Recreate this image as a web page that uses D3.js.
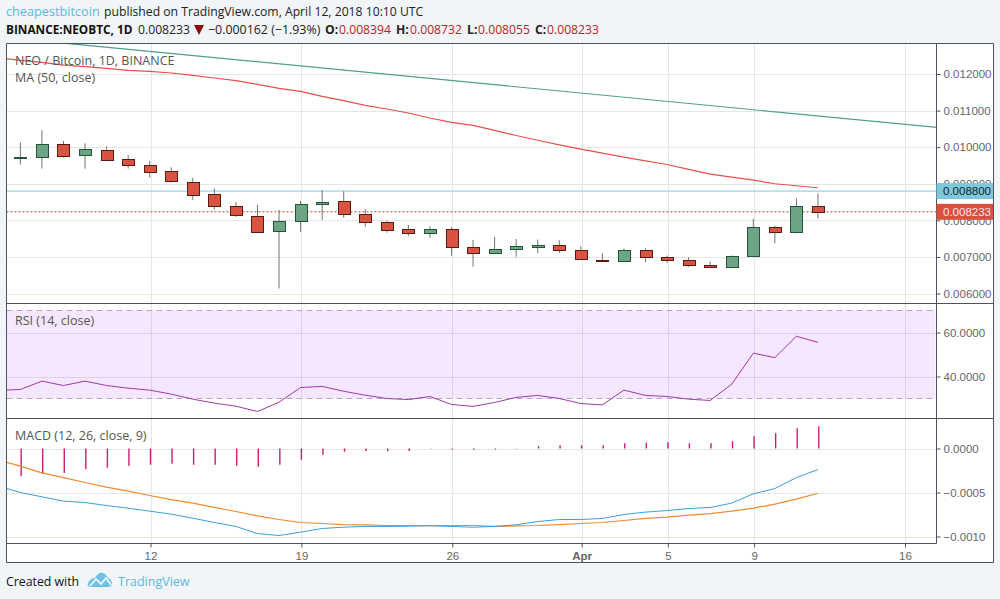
<!DOCTYPE html>
<html>
<head>
<meta charset="utf-8">
<script src="https://cdn.jsdelivr.net/npm/d3@7"></script>
<style>
  html, body { margin: 0; padding: 0; background: #f1f5f8; overflow: hidden; }
  svg { display: block; }
  .axis text { font-family: "Liberation Sans", Arial, sans-serif; font-size: 11.5px; fill: #666; }
  .axis path { display: none; }
  .axis line { stroke: #4c525e; }
  .legend { font-family: "Open Sans", sans-serif; font-size: 12.5px; fill: #555; }
  .head { font-family: "Open Sans", sans-serif; font-size: 12.2px; fill: #222; }
</style>
</head>
<body>
<div id="chart"></div>
<script>
// candles, one per day
var dates = ["2018-03-06","2018-03-07","2018-03-08","2018-03-09","2018-03-10","2018-03-11","2018-03-12","2018-03-13",
  "2018-03-14","2018-03-15","2018-03-16","2018-03-17","2018-03-18","2018-03-19","2018-03-20","2018-03-21",
  "2018-03-22","2018-03-23","2018-03-24","2018-03-25","2018-03-26","2018-03-27","2018-03-28","2018-03-29",
  "2018-03-30","2018-03-31","2018-04-01","2018-04-02","2018-04-03","2018-04-04","2018-04-05","2018-04-06",
  "2018-04-07","2018-04-08","2018-04-09","2018-04-10","2018-04-11","2018-04-12"];
var opens = [0.009723,0.009751,0.010097,0.009778,0.009933,0.009669,0.009505,0.009341,
  0.009059,0.008713,0.008385,0.008130,0.007702,0.007976,0.008440,0.008522,
  0.008167,0.007948,0.007757,0.007639,0.007755,0.007263,0.007099,0.007198,
  0.007273,0.007336,0.007200,0.006927,0.006891,0.007200,0.007009,0.006927,
  0.006791,0.006736,0.007036,0.007827,0.007691,0.008394];
var highs = [0.010133,0.010461,0.010170,0.010106,0.010024,0.009787,0.009623,0.009450,
  0.009159,0.008877,0.008504,0.008422,0.008285,0.008531,0.008822,0.008795,
  0.008303,0.007985,0.007875,0.007839,0.007810,0.007463,0.007545,0.007490,
  0.007473,0.007454,0.007291,0.007100,0.007227,0.007236,0.007036,0.006991,
  0.006873,0.007036,0.008045,0.007854,0.008600,0.008732];
var lows = [0.009523,0.009414,0.009714,0.009414,0.009660,0.009414,0.009168,0.009032,
  0.008558,0.008294,0.008094,0.007702,0.006137,0.007684,0.008012,0.008067,
  0.007821,0.007666,0.007575,0.007520,0.007033,0.006733,0.007099,0.007006,
  0.007100,0.007100,0.006945,0.006873,0.006891,0.006855,0.006836,0.006727,
  0.006700,0.006736,0.007036,0.007373,0.007645,0.008055];
var closes = [0.009742,0.010097,0.009778,0.009942,0.009669,0.009505,0.009314,0.009068,
  0.008713,0.008376,0.008130,0.007702,0.007976,0.008440,0.008495,0.008158,
  0.007948,0.007730,0.007639,0.007757,0.007263,0.007099,0.007208,0.007290,
  0.007336,0.007200,0.006955,0.006891,0.007200,0.007009,0.006918,0.006791,
  0.006736,0.007036,0.007827,0.007691,0.008391,0.008233];

// the indicator lines start one day earlier, off the left edge
var lineDates = ["2018-03-05"].concat(dates);
var maValues = [0.012446,0.012373,0.012318,0.012245,0.012200,0.012154,0.012100,0.012072,0.012027,
  0.011963,0.011890,0.011817,0.011717,0.011608,0.011526,0.011390,0.011271,
  0.011144,0.011044,0.010934,0.010798,0.010679,0.010597,0.010461,0.010318,
  0.010190,0.010063,0.009945,0.009836,0.009727,0.009627,0.009527,0.009391,
  0.009263,0.009182,0.009100,0.009000,0.008945,0.008891];
var rsiValues = [33.7,34.1,37.9,35.9,37.9,35.9,34.7,33.8,32.0,
  29.7,27.9,26.5,24.1,28.3,35.0,35.5,33.3,
  31.5,30.0,29.5,30.9,27.3,26.4,28.2,30.5,
  31.4,30.0,27.7,27.1,33.8,31.4,30.9,29.7,
  29.1,36.5,50.6,48.6,58.3,55.5];
var macdValues = [-0.000428,-0.000500,-0.000549,-0.000598,-0.000614,-0.000648,-0.000678,-0.000712,-0.000746,
  -0.000792,-0.000841,-0.000886,-0.000966,-0.000989,-0.000951,-0.000909,-0.000894,
  -0.000886,-0.000886,-0.000883,-0.000879,-0.000886,-0.000894,-0.000886,-0.000867,
  -0.000830,-0.000807,-0.000807,-0.000795,-0.000750,-0.000723,-0.000705,-0.000682,
  -0.000670,-0.000621,-0.000515,-0.000455,-0.000330,-0.000239];
var signalValues = [-0.000133,-0.000201,-0.000277,-0.000330,-0.000386,-0.000439,-0.000485,-0.000534,-0.000580,
  -0.000621,-0.000670,-0.000716,-0.000765,-0.000807,-0.000841,-0.000852,-0.000864,
  -0.000867,-0.000875,-0.000875,-0.000875,-0.000875,-0.000875,-0.000886,-0.000879,
  -0.000875,-0.000864,-0.000852,-0.000841,-0.000818,-0.000795,-0.000780,-0.000758,
  -0.000739,-0.000712,-0.000678,-0.000633,-0.000576,-0.000508];
var histValues = [-0.000314,-0.000288,-0.000277,-0.000235,-0.000220,-0.000197,-0.000186,-0.000174,
  -0.000186,-0.000186,-0.000197,-0.000208,-0.000186,-0.000129,-0.000072,-0.000038,
  -0.000027,-0.000027,-0.000027,-0.000004,-0.000012,-0.000015,-0.000012,0.000004,
  0.000026,0.000038,0.000038,0.000038,0.000061,0.000064,0.000072,0.000061,
  0.000061,0.000083,0.000140,0.000174,0.000231,0.000254];

// drawn trend line and horizontal level
var trendDates = ["2018-03-08","2018-04-18"];
var trendValues = [0.012846,0.010511];
var levelValue = 0.0088;
var lastValue = 0.008233;

// tick labels
var priceTicks = [0.006,0.007,0.008,0.009,0.010,0.011,0.012];
var rsiTicks = [40,60];
var rsiBand = [30,70];
var macdTicks = [-0.001,-0.0005,0];
var timeTicks = ["2018-03-12","2018-03-19","2018-03-26","2018-04-01","2018-04-05","2018-04-09","2018-04-16"];

// declare svg dimensions
var svgWidth = 1000;
var svgHeight = 599;

var left = 6.5, right = 936.5, outerRight = 993.5;
var paneTop = 43.5, priceBottom = 303.5, rsiBottom = 418.5, macdBottom = 543.5, outerBottom = 562.5;

var parseDay = d3.utcParse("%Y-%m-%d");
var upColor = "#6ba583", upBorder = "#225437", downColor = "#d75442", downBorder = "#5b1a13";
var frameColor = "#4c525e", gridColor = "#e6e6e6";

var svg = d3.select("#chart")
  .append("svg")
  .attr("width", svgWidth)
  .attr("height", svgHeight);

// create scale functions
var xScale = d3.scaleUtc()
  .domain([parseDay("2018-03-12"), parseDay("2018-04-16")])
  .range([150.5, 905]);
var priceScale = d3.scaleLinear().domain([0.006, 0.012]).range([293.5, 74]);
var rsiScale = d3.scaleLinear().domain([40, 60]).range([376.5, 332.5]);
var macdScale = d3.scaleLinear().domain([-0.001, 0]).range([536.5, 448.5]);

// candles sit a little left of the grid lines
function candleX(d) { return xScale(parseDay(d)) - 0.8; }

svg.append("rect")
  .attr("x", left).attr("y", paneTop)
  .attr("width", outerRight - left).attr("height", outerBottom - paneTop)
  .attr("fill", "white");

var defs = svg.append("defs");
[["clipPrice", paneTop, priceBottom], ["clipRsi", priceBottom, rsiBottom], ["clipMacd", rsiBottom, macdBottom]]
  .forEach(function(c) {
    defs.append("clipPath").attr("id", c[0]).append("rect")
      .attr("x", left).attr("y", c[1])
      .attr("width", right - left).attr("height", c[2] - c[1]);
  });

// grid lines
var gridGroup = svg.append("g").attr("stroke", gridColor).attr("shape-rendering", "crispEdges");
gridGroup.selectAll(".vgrid")
  .data(timeTicks)
  .enter()
  .append("line")
  .attr("x1", d => Math.round(xScale(parseDay(d))) + 0.5)
  .attr("x2", d => Math.round(xScale(parseDay(d))) + 0.5)
  .attr("y1", paneTop)
  .attr("y2", macdBottom);

function hGrid(ticks, scale) {
  gridGroup.selectAll(null)
    .data(ticks)
    .enter()
    .append("line")
    .attr("x1", left)
    .attr("x2", right)
    .attr("y1", d => Math.round(scale(d)) + 0.5)
    .attr("y2", d => Math.round(scale(d)) + 0.5);
}
hGrid(priceTicks, priceScale);
hGrid(rsiTicks, rsiScale);
hGrid(macdTicks, macdScale);

// price pane
var pricePane = svg.append("g").attr("clip-path", "url(#clipPrice)");

pricePane.append("line")
  .attr("x1", left).attr("x2", right)
  .attr("y1", priceScale(levelValue)).attr("y2", priceScale(levelValue))
  .attr("stroke", "#7fc8d8").attr("stroke-width", 1);

pricePane.append("line")
  .attr("x1", left).attr("x2", right)
  .attr("y1", priceScale(lastValue)).attr("y2", priceScale(lastValue))
  .attr("stroke", "#b5443a").attr("stroke-width", 1).attr("stroke-dasharray", "2,2");

var candleData = dates.map(function(d, i) {
  return { date: d, open: opens[i], high: highs[i], low: lows[i], close: closes[i] };
});

pricePane.selectAll(".wick")
  .data(candleData)
  .enter()
  .append("line")
  .attr("x1", d => candleX(d.date))
  .attr("x2", d => candleX(d.date))
  .attr("y1", d => priceScale(d.high))
  .attr("y2", d => priceScale(d.low))
  .attr("stroke", "#737375")
  .attr("stroke-width", 1);

pricePane.selectAll(".body")
  .data(candleData)
  .enter()
  .append("rect")
  .attr("x", d => Math.round(candleX(d.date) - 6) + 0.5)
  .attr("width", 12)
  .attr("y", d => Math.round(priceScale(Math.max(d.open, d.close))) + 0.5)
  .attr("height", d => Math.max(1, Math.round(Math.abs(priceScale(d.open) - priceScale(d.close)))))
  .attr("fill", d => d.close >= d.open ? upColor : downColor)
  .attr("stroke", d => d.close >= d.open ? upBorder : downBorder)
  .attr("stroke-width", 1);

function drawLine(group, days, values, scale, color, width) {
  var line = d3.line()
    .x(d => candleX(d[0]))
    .y(d => scale(d[1]));
  group.append("path")
    .datum(days.map((d, i) => [d, values[i]]))
    .attr("d", line)
    .attr("fill", "none")
    .attr("stroke", color)
    .attr("stroke-width", width);
}

drawLine(pricePane, lineDates, maValues, priceScale, "#e9504c", 1.2);
drawLine(pricePane, trendDates, trendValues, priceScale, "#4fa08e", 1.2);

// rsi pane
var rsiPane = svg.append("g").attr("clip-path", "url(#clipRsi)");

rsiPane.append("rect")
  .attr("x", left)
  .attr("width", right - left - 1)
  .attr("y", rsiScale(rsiBand[1]))
  .attr("height", rsiScale(rsiBand[0]) - rsiScale(rsiBand[1]))
  .attr("fill", "#9915ff")
  .attr("opacity", 0.1);

rsiPane.selectAll(".band")
  .data(rsiBand)
  .enter()
  .append("line")
  .attr("x1", left)
  .attr("x2", right - 1)
  .attr("y1", d => rsiScale(d))
  .attr("y2", d => rsiScale(d))
  .attr("stroke", "#b5a6c2")
  .attr("stroke-dasharray", "6,4");

drawLine(rsiPane, lineDates, rsiValues, rsiScale, "#a03aa5", 1);

// macd pane
var macdPane = svg.append("g").attr("clip-path", "url(#clipMacd)");

macdPane.selectAll(".hist")
  .data(dates)
  .enter()
  .append("line")
  .attr("x1", d => xScale(parseDay(d)))
  .attr("x2", d => xScale(parseDay(d)))
  .attr("y1", macdScale(0))
  .attr("y2", (d, i) => macdScale(histValues[i]))
  .attr("stroke", "#cc1a72")
  .attr("stroke-width", 1.4);

drawLine(macdPane, lineDates, signalValues, macdScale, "#f08a30", 1.2);
drawLine(macdPane, lineDates, macdValues, macdScale, "#3a9fdc", 1);

// axes
function rightAxis(scale, ticks, fmt) {
  var axis = d3.axisRight(scale).tickValues(ticks).tickSize(4).tickPadding(3).tickFormat(fmt);
  svg.append("g")
    .attr("class", "axis")
    .attr("transform", `translate(${right}, 0)`)
    .call(axis);
}
rightAxis(priceScale, priceTicks, d3.format(".6f"));
rightAxis(rsiScale, rsiTicks, d3.format(".4f"));
rightAxis(macdScale, macdTicks, d3.format(".4f"));

var timeAxis = d3.axisBottom(xScale)
  .tickValues(timeTicks.map(parseDay))
  .tickSize(4)
  .tickPadding(4)
  .tickFormat(d => d.getUTCDate() === 1 ? "Apr" : d3.utcFormat("%-d")(d));
svg.append("g")
  .attr("class", "axis")
  .attr("transform", `translate(0, ${macdBottom})`)
  .call(timeAxis)
  .selectAll("text")
  .attr("font-weight", d => d.getUTCDate() === 1 ? "bold" : null);

// frame lines
var frame = [
  [left, paneTop, outerRight, paneTop],
  [left, priceBottom, outerRight, priceBottom],
  [left, rsiBottom, outerRight, rsiBottom],
  [left, macdBottom, right, macdBottom],
  [left, outerBottom, outerRight, outerBottom],
  [left, paneTop, left, outerBottom],
  [right, paneTop, right, macdBottom],
  [outerRight, paneTop, outerRight, outerBottom]
];
svg.append("g").selectAll("line")
  .data(frame)
  .enter()
  .append("line")
  .attr("x1", d => d[0]).attr("y1", d => d[1])
  .attr("x2", d => d[2]).attr("y2", d => d[3])
  .attr("stroke", frameColor)
  .attr("stroke-width", 1);

// price labels on the axis
function priceTag(value, fill, textColor) {
  var y = priceScale(value);
  svg.append("rect")
    .attr("x", right).attr("y", y - 8)
    .attr("width", outerRight - right - 0.5).attr("height", 16)
    .attr("fill", fill);
  svg.append("text")
    .attr("x", 943).attr("y", y + 4)
    .attr("font-family", '"Liberation Sans", Arial, sans-serif')
    .attr("font-size", 11.5)
    .attr("fill", textColor)
    .text(d3.format(".6f")(value));
}
priceTag(levelValue, "#7fc8dc", "#10222a");
priceTag(lastValue, "#d9503f", "#fbe9e6");

// pane legends
var legends = [
  ["NEO / Bitcoin, 1D, BINANCE", 15, 65],
  ["MA (50, close)", 15, 82],
  ["RSI (14, close)", 15, 325],
  ["MACD (12, 26, close, 9)", 15, 440]
];
svg.selectAll(".legend")
  .data(legends)
  .enter()
  .append("text")
  .attr("class", "legend")
  .attr("x", d => d[1])
  .attr("y", d => d[2])
  .text(d => d[0]);

// header lines: text, x, y, colour, weight, size
var blue = "#5db7de", darkRed = "#b5242a";
var headParts = [
  ["cheapestbitcoin", 6, 16, blue, 400, 12.7],
  ["published on TradingView.com, April 12, 2018 10:10 UTC", 104, 16, "#222", 400, 12.2],
  ["BINANCE:NEOBTC, 1D", 6, 34, "#111", 700, 11.8],
  ["0.008233", 138, 34, "#222", 400, 12.2],
  ["\u22120.000162 (\u22121.93%)", 208, 34, "#222", 400, 12.4],
  ["O:", 325, 34, "#222", 700, 12.2],
  ["0.008394", 339, 34, darkRed, 400, 12.2],
  ["H:", 396, 34, "#222", 700, 12.2],
  ["0.008732", 410, 34, darkRed, 400, 12.2],
  ["L:", 467, 34, "#222", 700, 12.2],
  ["0.008055", 478, 34, darkRed, 400, 12.2],
  ["C:", 535, 34, "#222", 700, 12.2],
  ["0.008233", 547, 34, darkRed, 400, 12.2]
];
svg.selectAll(".head")
  .data(headParts)
  .enter()
  .append("text")
  .attr("class", "head")
  .attr("x", d => d[1])
  .attr("y", d => d[2])
  .style("fill", d => d[3])
  .style("font-size", d => d[5] + "px")
  .attr("font-weight", d => d[4])
  .text(d => d[0]);

// down arrow in the header
svg.append("path")
  .attr("d", "M194,25 L204,25 L199,35 Z")
  .attr("fill", "#8b0f0f");

// footer
svg.append("text")
  .attr("class", "head")
  .attr("x", 6).attr("y", 586)
  .style("fill", "#111")
  .style("font-size", "12.3px")
  .text("Created with");

var logo = svg.append("g").attr("transform", "translate(88, 572)");
logo.append("path")
  .attr("d", "M0,11 C1,8 4,6 7,6 C9,2 12,0 15,1 C18,2 19,4 20,6 C23,7 24,10 24,12 C24,14 22,15 20,15 L3,15 C0,15 -1,13 0,11 Z")
  .attr("fill", "#6cc3e6");
logo.append("path")
  .attr("d", "M2,14 L8,7 L13,12 L18,6 L23,13")
  .attr("fill", "none")
  .attr("stroke", "#f1f5f8")
  .attr("stroke-width", 1.8);

svg.append("text")
  .attr("class", "head")
  .attr("x", 118).attr("y", 586)
  .style("fill", blue)
  .style("font-size", "12.5px")
  .text("TradingView");
</script>
</body>
</html>
